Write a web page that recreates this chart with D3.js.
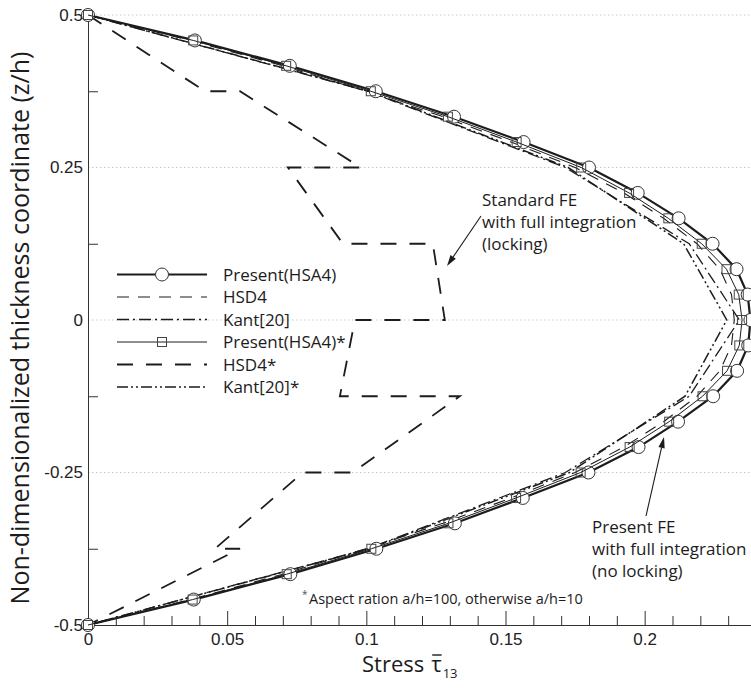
<!DOCTYPE html>
<html>
<head>
<meta charset="utf-8">
<script src="https://cdn.jsdelivr.net/npm/d3@7/dist/d3.min.js"></script>
<style>
  body { margin: 0; background: #fff; }
  svg { display: block; font-family: "Open Sans", "Noto Sans", sans-serif; }
  .axis .tick text { font-size: 17px; fill: #222; }
  .axis path, .axis line { stroke: #333; }
</style>
</head>
<body>
<svg id="chart" width="751" height="688"></svg>
<script>
// thickness coordinate z/h, fine mesh (24 layers) and coarse mesh (8 elements)
var zFine = [0.5, 0.4583, 0.4167, 0.375, 0.3333, 0.2917, 0.25, 0.2083, 0.1667, 0.125, 0.0833, 0.0417, 0,
  -0.0417, -0.0833, -0.125, -0.1667, -0.2083, -0.25, -0.2917, -0.3333, -0.375, -0.4167, -0.4583, -0.5];
var zCoarse = [0.5, 0.375, 0.25, 0.125, 0, -0.125, -0.25, -0.375, -0.5];

// transverse shear stress tau13
var presentHSA4 = [0, 0.0384, 0.0725, 0.1034, 0.1315, 0.1565, 0.1800, 0.1975, 0.2122, 0.2244, 0.2330, 0.2370, 0.2380,
  0.2372, 0.2332, 0.2246, 0.2120, 0.1978, 0.1798, 0.1562, 0.1318, 0.1036, 0.0727, 0.0380, 0];
var presentHSA4Star = [0, 0.0378, 0.0712, 0.1016, 0.1293, 0.1540, 0.1772, 0.1944, 0.2085, 0.2205, 0.2294, 0.2338, 0.2350,
  0.2340, 0.2296, 0.2208, 0.2088, 0.1946, 0.1770, 0.1538, 0.1295, 0.1018, 0.0714, 0.0376, 0];
var hsd4 = [0, 0.0368, 0.0700, 0.0998, 0.1275, 0.1520, 0.1750, 0.1925, 0.2068, 0.2188, 0.2270, 0.2312, 0.2322,
  0.2312, 0.2270, 0.2188, 0.2068, 0.1925, 0.1750, 0.1520, 0.1275, 0.0998, 0.0700, 0.0368, 0];
var kant = [0, 0.1005, 0.1715, 0.2160, 0.2340, 0.2160, 0.1715, 0.1005, 0];
var kantStar = [0, 0.1010, 0.1725, 0.2140, 0.2295, 0.2145, 0.1730, 0.1010, 0];

// standard FE with full integration (locking), stepped at element interfaces
var zLock = [0.5, 0.375, 0.375, 0.25, 0.25, 0.125, 0.125, 0, 0, -0.125, -0.125, -0.25, -0.25, -0.375, -0.375, -0.5];
var hsd4Star = [0, 0.0420, 0.0546, 0.0980, 0.0718, 0.0916, 0.1239, 0.1282, 0.0959, 0.0905, 0.1336, 0.0951, 0.0772, 0.0456, 0.0546, 0];

var xMajorTicks = [0, 0.05, 0.1, 0.15, 0.2];
var xMinorTicks = [0.01, 0.02, 0.03, 0.04, 0.06, 0.07, 0.08, 0.09, 0.11, 0.12, 0.13, 0.14,
  0.16, 0.17, 0.18, 0.19, 0.21, 0.22, 0.23];
var yMajorTicks = [0.5, 0.25, 0, -0.25, -0.5];
var yMinorTicks = [0.375, 0.125, -0.125, -0.375];
var gridValues = [0.5, 0.25, 0, -0.25];

var legendLabels = ['Present(HSA4)', 'HSD4', 'Kant[20]', 'Present(HSA4)*', 'HSD4*', 'Kant[20]*'];

var ink = '#1c1c1c';
var svg = d3.select('#chart');

var x = d3.scaleLinear().domain([0, 0.24]).range([88, 756]);
var y = d3.scaleLinear().domain([-0.5, 0.5]).range([625, 15]);

// light dotted grid at the labelled z values
svg.append('g').selectAll('line')
    .data(gridValues)
  .enter().append('line')
    .attr('x1', x(0)).attr('x2', 751)
    .attr('y1', function(d) { return y(d); })
    .attr('y2', function(d) { return y(d); })
    .attr('stroke', '#c8c8c8')
    .attr('stroke-dasharray', '1.5,2.5');

// axes: ticks point into the plot, labels outside
svg.append('g')
    .attr('class', 'axis')
    .attr('transform', 'translate(0,' + y(-0.5) + ')')
    .call(d3.axisBottom(x).tickValues(xMinorTicks).tickSizeInner(-9).tickSizeOuter(0).tickFormat(''));
svg.append('g')
    .attr('class', 'axis')
    .attr('transform', 'translate(0,' + y(-0.5) + ')')
    .call(d3.axisBottom(x).tickValues(xMajorTicks).tickSizeInner(-14).tickSizeOuter(0).tickPadding(8)
      .tickFormat(function(d) { return d === 0 ? '0' : String(d); }));

svg.append('g')
    .attr('class', 'axis')
    .attr('transform', 'translate(' + x(0) + ',0)')
    .call(d3.axisLeft(y).tickValues(yMinorTicks).tickSizeInner(-10).tickSizeOuter(0).tickFormat(''));
svg.append('g')
    .attr('class', 'axis')
    .attr('transform', 'translate(' + x(0) + ',0)')
    .call(d3.axisLeft(y).tickValues(yMajorTicks).tickSizeInner(0).tickSizeOuter(0).tickPadding(5)
      .tickFormat(function(d) { return d === 0 ? '0' : String(d); }));

// series
function zip(zs, vs) {
  return zs.map(function(z, i) { return [z, vs[i]]; });
}

var line = d3.line()
    .x(function(d) { return x(d[1]); })
    .y(function(d) { return y(d[0]); });

var styles = {
  present: { width: 2.2, dash: null },
  hsd4: { width: 1.1, dash: '12,9' },
  kant: { width: 1.3, dash: '12,4,2,4' },
  presentStar: { width: 1, dash: null },
  hsd4Star: { width: 1.8, dash: '16,13' },
  kantStar: { width: 1.5, dash: '11,3,2,3,2,3' }
};

function drawPath(points, style) {
  return svg.append('path')
      .datum(points)
      .attr('d', line)
      .attr('fill', 'none')
      .attr('stroke', ink)
      .attr('stroke-width', style.width)
      .attr('stroke-dasharray', style.dash);
}

drawPath(zip(zLock, hsd4Star), styles.hsd4Star);
drawPath(zip(zCoarse, kantStar), styles.kantStar);
drawPath(zip(zCoarse, kant), styles.kant);
drawPath(zip(zFine, hsd4), styles.hsd4);
drawPath(zip(zFine, presentHSA4), styles.present);

svg.append('g').selectAll('circle')
    .data(zip(zFine, presentHSA4))
  .enter().append('circle')
    .attr('cx', function(d) { return x(d[1]); })
    .attr('cy', function(d) { return y(d[0]); })
    .attr('r', 6.5)
    .attr('fill', '#fff')
    .attr('stroke', '#333')
    .attr('stroke-width', 1);

drawPath(zip(zFine, presentHSA4Star), styles.presentStar);

svg.append('g').selectAll('rect')
    .data(zip(zFine, presentHSA4Star))
  .enter().append('rect')
    .attr('x', function(d) { return x(d[1]) - 4.5; })
    .attr('y', function(d) { return y(d[0]) - 4.5; })
    .attr('width', 9)
    .attr('height', 9)
    .attr('fill', 'none')
    .attr('stroke', '#444')
    .attr('stroke-width', 1);

// legend
var legendStyles = [styles.present, styles.hsd4, styles.kant, styles.presentStar, styles.hsd4Star, styles.kantStar];
var legend = svg.append('g').attr('transform', 'translate(117,274.5)');
legendLabels.forEach(function(label, i) {
  var row = legend.append('g').attr('transform', 'translate(0,' + (i * 22.5) + ')');
  row.append('line')
      .attr('x1', 0).attr('x2', 90)
      .attr('stroke', ink)
      .attr('stroke-width', legendStyles[i].width)
      .attr('stroke-dasharray', legendStyles[i].dash);
  if (i === 0) {
    row.append('circle').attr('cx', 45).attr('r', 6.5)
        .attr('fill', '#fff').attr('stroke', '#333');
  }
  if (i === 3) {
    row.append('rect').attr('x', 40.5).attr('y', -4.5).attr('width', 9).attr('height', 9)
        .attr('fill', 'none').attr('stroke', '#444');
  }
  row.append('text')
      .attr('x', 106).attr('y', 6)
      .attr('font-size', 17)
      .attr('fill', ink)
      .text(label);
});

// annotations
function arrow(x1, y1, x2, y2) {
  var ang = Math.atan2(y2 - y1, x2 - x1);
  var len = 11, half = 3.2;
  var bx = x2 - len * Math.cos(ang), by = y2 - len * Math.sin(ang);
  svg.append('line')
      .attr('x1', x1).attr('y1', y1).attr('x2', bx).attr('y2', by)
      .attr('stroke', ink).attr('stroke-width', 1.1);
  svg.append('path')
      .attr('d', 'M' + x2 + ',' + y2 +
        'L' + (bx + half * Math.sin(ang)) + ',' + (by - half * Math.cos(ang)) +
        'L' + (bx - half * Math.sin(ang)) + ',' + (by + half * Math.cos(ang)) + 'Z')
      .attr('fill', ink);
}

function note(lines, x0, y0) {
  var t = svg.append('text').attr('font-size', 17).attr('fill', ink);
  lines.forEach(function(s, i) {
    t.append('tspan').attr('x', x0).attr('y', y0 + i * 22).text(s);
  });
}

note(['Standard FE', 'with full integration', '(locking)'], 482, 206);
arrow(481, 216, 447, 266);

note(['Present FE', 'with full integration', '(no locking)'], 592, 533);
arrow(646, 516, 664, 437);

svg.append('text')
    .attr('x', 302).attr('y', 598)
    .attr('font-size', 10).attr('fill', '#555')
    .text('*');
svg.append('text')
    .attr('x', 309).attr('y', 604)
    .attr('font-size', 14.5)
    .attr('fill', ink)
    .text('Aspect ration a/h=100, otherwise a/h=10');

// axis titles
svg.append('text')
    .attr('transform', 'translate(29,328) rotate(-90)')
    .attr('text-anchor', 'middle')
    .attr('font-size', 25)
    .attr('fill', ink)
    .text('Non-dimensionalized thickness coordinate (z/h)');

var stress = svg.append('text')
    .attr('x', 362).attr('y', 672)
    .attr('font-size', 22)
    .attr('fill', ink)
    .text('Stress');
var tauX = 362 + stress.node().getComputedTextLength() + 7;
var tau = svg.append('text')
    .attr('x', tauX).attr('y', 672)
    .attr('font-size', 22)
    .attr('fill', ink)
    .text('τ');
var tauW = tau.node().getComputedTextLength();
svg.append('line')
    .attr('x1', tauX + 1).attr('x2', tauX + tauW)
    .attr('y1', 655).attr('y2', 655)
    .attr('stroke', ink).attr('stroke-width', 1.4);
svg.append('text')
    .attr('x', tauX + tauW + 1).attr('y', 678)
    .attr('font-size', 13)
    .attr('fill', ink)
    .text('13');
</script>
</body>
</html>
